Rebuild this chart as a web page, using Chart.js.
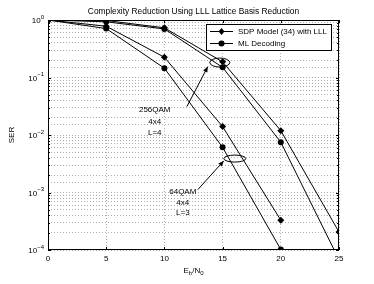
<!DOCTYPE html>
<html>
<head>
<meta charset="utf-8">
<script src="https://cdn.jsdelivr.net/npm/chart.js@4/dist/chart.umd.min.js"></script>
<style>
  html, body { margin: 0; padding: 0; background: #fff; }
  #wrap { width: 374px; height: 284px; }
</style>
</head>
<body>
<div id="wrap"><canvas id="grafico" width="374" height="284"></canvas></div>
<script>
const snr = [0, 5, 10, 15, 20, 25];
const qam256Sdp = [1, 0.98, 0.73, 0.187, 0.0119, 2.05e-4];
const qam256Ml = [1, 0.93, 0.70, 0.15, 0.0075, 6.8e-5];
const qam64Sdp = [1, 0.78, 0.225, 0.014, 3.3e-4];
const qam64Ml = [1, 0.71, 0.145, 0.0061, 1.02e-4];
const xTicks = [0, 5, 10, 15, 20, 25];
const yTicks = [0, -1, -2, -3, -4];
const legendas = ['SDP Model (34) with LLL', 'ML Decoding'];

const fonte = '"Liberation Sans", Arial, sans-serif';

const pts = (ys) => ys.map((v, i) => ({ x: snr[i], y: v }));

const serie = (ys, style) => ({
    data: pts(ys),
    borderColor: '#000',
    backgroundColor: '#000',
    borderWidth: 1,
    pointStyle: style,
    pointRadius: ys.map(v => v < 1e-4 ? 0 : (style === 'circle' ? 3 : 3.5)),
    pointBorderWidth: 0,
    tension: 0,
    fill: false
});

// annotations (data coordinates)
const notas = [
    { linhas: ['256QAM', '4x4', 'L=4'], tx: 9.17, ty: [-1.56, -1.77, -1.96],
      seta: [11.93, -1.507, 13.73, -0.81], elipse: [14.76, -0.74, 10, 4.5] },
    { linhas: ['64QAM', '4x4', 'L=3'], tx: 11.58, ty: [-2.99, -3.18, -3.35],
      seta: [12.87, -2.95, 15.1, -2.45], elipse: [16.05, -2.41, 11, 3.5] }
];

const extras = {
    id: 'extras',
    afterDatasetsDraw(chart) {
        const { ctx, chartArea: a, scales: { x, y } } = chart;
        ctx.save();
        // box
        ctx.strokeStyle = '#000';
        ctx.lineWidth = 1;
        ctx.strokeRect(a.left + 0.5, a.top + 0.5, a.right - a.left - 1, a.bottom - a.top - 1);
        // inward ticks
        ctx.beginPath();
        xTicks.forEach(t => {
            const px = Math.round(x.getPixelForValue(t)) + 0.5;
            ctx.moveTo(px, a.bottom); ctx.lineTo(px, a.bottom - 3);
            ctx.moveTo(px, a.top); ctx.lineTo(px, a.top + 3);
        });
        for (let e = -4; e <= 0; e++) {
            for (let m = 1; m <= 9; m++) {
                const v = m * Math.pow(10, e);
                if (v > 1) break;
                const py = Math.round(y.getPixelForValue(v)) + 0.5;
                const len = m === 1 ? 3 : 2;
                ctx.moveTo(a.left, py); ctx.lineTo(a.left + len, py);
                ctx.moveTo(a.right, py); ctx.lineTo(a.right - len, py);
            }
        }
        ctx.stroke();

        // annotations
        ctx.fillStyle = '#000';
        ctx.font = '8px ' + fonte;
        ctx.textAlign = 'center';
        ctx.textBaseline = 'middle';
        notas.forEach(n => {
            n.linhas.forEach((t, i) => {
                ctx.fillText(t, x.getPixelForValue(n.tx), y.getPixelForValue(Math.pow(10, n.ty[i])));
            });
            const [x1, e1, x2, e2] = n.seta;
            const p1x = x.getPixelForValue(x1), p1y = y.getPixelForValue(Math.pow(10, e1));
            const p2x = x.getPixelForValue(x2), p2y = y.getPixelForValue(Math.pow(10, e2));
            ctx.beginPath();
            ctx.moveTo(p1x, p1y); ctx.lineTo(p2x, p2y); ctx.stroke();
            const ang = Math.atan2(p2y - p1y, p2x - p1x);
            ctx.beginPath();
            ctx.moveTo(p2x, p2y);
            ctx.lineTo(p2x - 6 * Math.cos(ang - 0.4), p2y - 6 * Math.sin(ang - 0.4));
            ctx.lineTo(p2x - 6 * Math.cos(ang + 0.4), p2y - 6 * Math.sin(ang + 0.4));
            ctx.closePath(); ctx.fill();
            const [ex, ee, rx, ry] = n.elipse;
            ctx.beginPath();
            ctx.ellipse(x.getPixelForValue(ex), y.getPixelForValue(Math.pow(10, ee)), rx, ry, 0, 0, Math.PI * 2);
            ctx.stroke();
        });

        // legend
        const lx = 206, ly = 24, lw = 125, lh = 26;
        ctx.fillStyle = '#fff';
        ctx.fillRect(lx, ly, lw, lh);
        ctx.strokeRect(lx + 0.5, ly + 0.5, lw, lh);
        ctx.fillStyle = '#000';
        ctx.font = '8px ' + fonte;
        ctx.textAlign = 'left';
        legendas.forEach((t, i) => {
            const yy = ly + 7.5 + i * 12;
            ctx.beginPath();
            ctx.moveTo(lx + 4, yy); ctx.lineTo(lx + 27, yy); ctx.stroke();
            ctx.beginPath();
            if (i === 0) {
                ctx.moveTo(lx + 15.5, yy - 3.5); ctx.lineTo(lx + 18.5, yy);
                ctx.lineTo(lx + 15.5, yy + 3.5); ctx.lineTo(lx + 12.5, yy);
                ctx.closePath();
            } else {
                ctx.arc(lx + 15.5, yy, 3, 0, Math.PI * 2);
            }
            ctx.fill();
            ctx.fillText(t, lx + 32, yy + 0.5);
        });

        // y tick labels with superscript
        ctx.textAlign = 'right';
        yTicks.forEach(e => {
            const py = y.getPixelForValue(Math.pow(10, e));
            const sup = e === 0 ? '0' : '\u2212' + (-e);
            ctx.font = '6px ' + fonte;
            const sw = ctx.measureText(sup).width;
            ctx.fillText(sup, a.left - 4, py - 3);
            ctx.font = '8px ' + fonte;
            ctx.fillText('10', a.left - 4 - sw, py + 1);
        });

        // title
        ctx.textAlign = 'center';
        ctx.font = '8.4px ' + fonte;
        ctx.fillText('Complexity Reduction Using LLL Lattice Basis Reduction', (a.left + a.right) / 2, 12);

        // x axis title E_b/N_0
        ctx.font = '8px ' + fonte;
        const cx = (a.left + a.right) / 2, cy = 271;
        const partes = [['E', 8, 0], ['b', 6, 2.5], ['/N', 8, 0], ['0', 6, 2.5]];
        let tot = 0;
        partes.forEach(p => { ctx.font = p[1] + 'px ' + fonte; tot += ctx.measureText(p[0]).width; });
        let cur = cx - tot / 2;
        ctx.textAlign = 'left';
        partes.forEach(p => {
            ctx.font = p[1] + 'px ' + fonte;
            ctx.fillText(p[0], cur, cy + p[2]);
            cur += ctx.measureText(p[0]).width;
        });

        // y axis title
        ctx.translate(12, (a.top + a.bottom) / 2);
        ctx.rotate(-Math.PI / 2);
        ctx.textAlign = 'center';
        ctx.font = '8px ' + fonte;
        ctx.fillText('SER', 0, 0);
        ctx.restore();
    }
};

const config = {
    type: 'line',
    data: {
        datasets: [
            serie(qam256Sdp, 'rectRot'),
            serie(qam256Ml, 'circle'),
            serie(qam64Sdp, 'rectRot'),
            serie(qam64Ml, 'circle')
        ]
    },
    options: {
        responsive: false,
        animation: false,
        layout: { padding: { left: 0, right: 35, top: 20, bottom: 0 } },
        plugins: {
            legend: { display: false },
            tooltip: { enabled: false }
        },
        scales: {
            x: {
                type: 'linear',
                min: 0,
                max: 25,
                afterBuildTicks: s => { s.ticks = xTicks.map(v => ({ value: v })); },
                afterFit: s => { s.height = 34; },
                grid: { color: 'rgba(0,0,0,0.32)', drawTicks: false },
                border: { display: false, dash: [1, 2] },
                ticks: { color: '#000', padding: 4, font: { size: 8, family: fonte } }
            },
            y: {
                type: 'logarithmic',
                min: 1e-4,
                max: 1,
                afterFit: s => { s.width = 48; },
                grid: { color: 'rgba(0,0,0,0.32)', drawTicks: false },
                border: { display: false, dash: [1, 2] },
                ticks: { display: false }
            }
        }
    },
    plugins: [extras]
};

const grafico = new Chart(document.getElementById('grafico'), config);
</script>
</body>
</html>
